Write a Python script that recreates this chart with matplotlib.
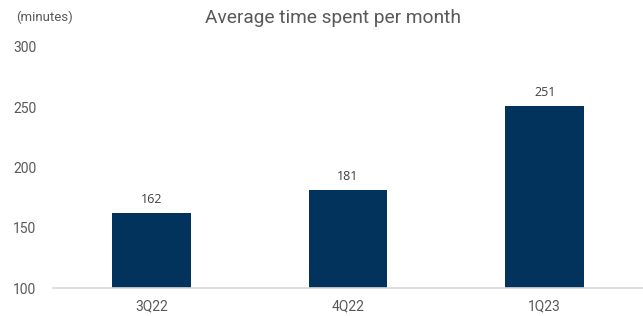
import matplotlib
matplotlib.use("Agg")
import matplotlib.pyplot as plt

categories = ["3Q22", "4Q22", "1Q23"]
values = [162, 181, 251]
yticks = [100, 150, 200, 250, 300]

W, H = 643, 316
fig = plt.figure(figsize=(W / 100, H / 100), dpi=100)
ax = fig.add_axes([53 / W, (H - 288) / H, (W - 53) / W, (288 - 47) / H])

bar_color = "#02335C"
text_color = "#595959"

x = range(len(categories))
bars = ax.bar(x, values, width=0.4, color=bar_color, bottom=0)
ax.set_ylim(100, 300)
ax.set_xlim(-0.5, len(categories) - 0.5)
ax.set_yticks(yticks)
ax.set_yticklabels([str(t) for t in yticks], family="Roboto", fontsize=10, color=text_color)
ax.set_xticks(list(x))
ax.set_xticklabels(categories, family="Roboto", fontsize=10, color=text_color)
ax.tick_params(axis="both", length=0)
ax.tick_params(axis="y", pad=12)
ax.tick_params(axis="x", pad=8)

for s in ["top", "right", "left"]:
    ax.spines[s].set_visible(False)
ax.spines["bottom"].set_color("#D9D9D9")
ax.spines["bottom"].set_linewidth(1.2)

for xi, v in zip(x, values):
    ax.annotate(str(v), (xi, v), xytext=(0, 5), textcoords="offset points",
                ha="center", va="bottom", family="Open Sans", fontsize=9, color="#404040")

fig.text(333 / W, 1 - 18 / H, "Average time spent per month", ha="center", va="center",
         family="Roboto", fontsize=13.8, color=text_color)
fig.text(16 / W, 1 - 17 / H, "(minutes)", ha="left", va="center",
         family="Roboto", fontsize=9.5, color=text_color)

fig.savefig("out.png", dpi=100)
